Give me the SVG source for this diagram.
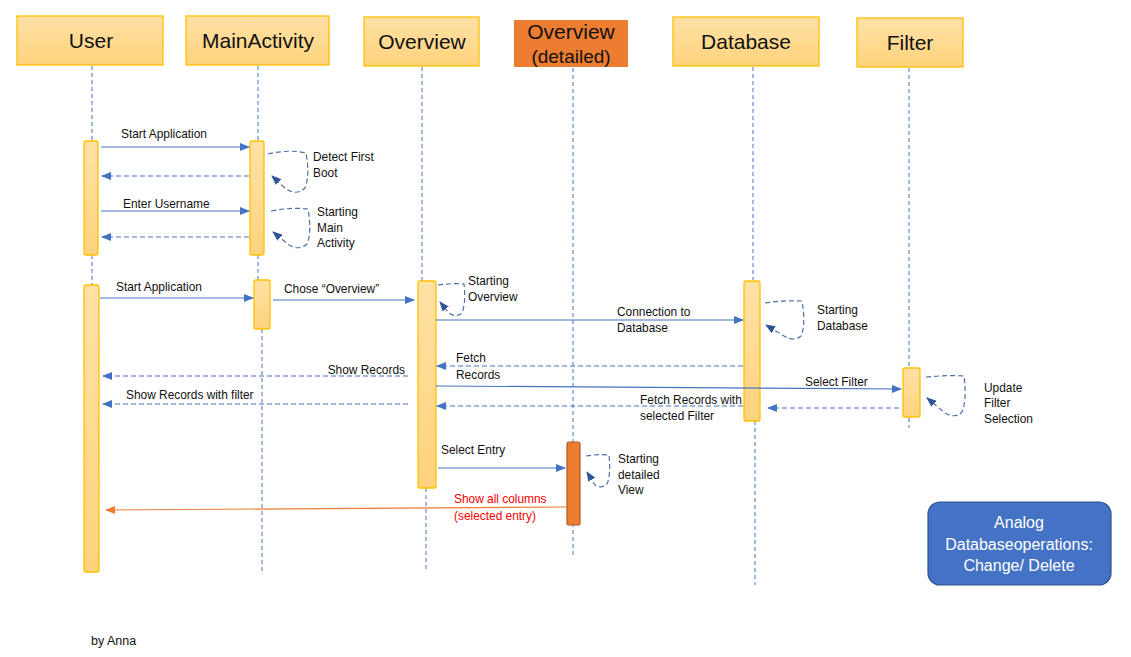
<svg xmlns="http://www.w3.org/2000/svg" width="1131" height="657" viewBox="0 0 1131 657">
<defs>
<linearGradient id="gy" x1="0" y1="0" x2="0" y2="1"><stop offset="0" stop-color="#FFE1A6"/><stop offset="1" stop-color="#FFD37C"/></linearGradient>
<marker id="ah" markerUnits="userSpaceOnUse" markerWidth="10" markerHeight="8" refX="9" refY="4" orient="auto"><path d="M0,0 L10,4 L0,8 Z" fill="#4472C4"/></marker>
<marker id="ahd" markerUnits="userSpaceOnUse" markerWidth="10" markerHeight="8" refX="9" refY="4" orient="auto"><path d="M0,0 L10,4 L0,8 Z" fill="#2F5597"/></marker>
<marker id="aho" markerUnits="userSpaceOnUse" markerWidth="10" markerHeight="8" refX="9" refY="4" orient="auto"><path d="M0,0 L10,4 L0,8 Z" fill="#ED7D31"/></marker>
<style>
.hdr{fill:url(#gy);stroke:#FFC000;stroke-width:1.3}
.act{fill:url(#gy);stroke:#FFC000;stroke-width:1.3}
.ht{font-family:"Liberation Sans",Arial,sans-serif;font-size:21px;fill:#111;text-anchor:middle}
.t{font-family:"Liberation Sans",Arial,sans-serif;font-size:11.9px;fill:#111}
.nt{font-family:"Liberation Sans",Arial,sans-serif;font-size:16px;fill:#fff;text-anchor:middle}
.life{stroke:#4472C4;stroke-width:1;stroke-dasharray:4 3;fill:none}
.msg{stroke:#4472C4;stroke-width:1.2;fill:none;marker-end:url(#ah)}
.ret{stroke:#4472C4;stroke-width:1.2;stroke-dasharray:5 3;fill:none;marker-end:url(#ah)}
.loop{stroke:#4F6FA8;stroke-width:1.2;stroke-dasharray:5 3;fill:none;marker-end:url(#ahd)}
</style>
</defs>
<rect width="1131" height="657" fill="#fff"/>
<g id="lifelines">
<line class="life" x1="92" y1="66" x2="92" y2="285"/>
<line class="life" x1="258" y1="66" x2="258" y2="280"/>
<line class="life" x1="262" y1="329" x2="262" y2="572"/>
<line class="life" x1="422" y1="67" x2="422" y2="281"/>
<line class="life" x1="426" y1="488" x2="426" y2="572"/>
<line class="life" x1="573" y1="68" x2="573" y2="558"/>
<line class="life" x1="753" y1="67" x2="753" y2="280"/>
<line class="life" x1="755" y1="421" x2="755" y2="585"/>
<line class="life" x1="909" y1="68" x2="909" y2="428"/>
</g>
<g id="User"><rect class="hdr" x="17" y="16" width="146" height="49"/><text class="ht" x="91" y="48">User</text>
<rect class="act" x="84" y="141" width="14" height="114" rx="2"/>
<rect class="act" x="84" y="285" width="15" height="287" rx="2"/></g>
<g id="MainActivity"><rect class="hdr" x="186" y="16" width="143" height="49"/><text class="ht" x="258" y="48">MainActivity</text>
<rect class="act" x="250" y="141" width="14" height="114" rx="2"/>
<rect class="act" x="254" y="280" width="16" height="49" rx="2"/></g>
<g id="Overview"><rect class="hdr" x="364" y="17" width="115" height="49"/><text class="ht" x="422" y="49">Overview</text>
<rect class="act" x="418" y="281" width="18" height="207" rx="2"/></g>
<g id="OverviewDetailed"><rect x="514" y="20" width="114" height="47" fill="#ED7D31"/><text class="ht" x="571" y="39">Overview</text><text class="ht" x="571" y="63" style="font-size:19px">(detailed)</text>
<rect x="567" y="442" width="13" height="83" rx="2" fill="#ED7D31" stroke="#AE5A21" stroke-width="1.2"/></g>
<g id="Database"><rect class="hdr" x="673" y="17" width="146" height="49"/><text class="ht" x="746" y="49">Database</text>
<rect class="act" x="744" y="281" width="16" height="140" rx="2"/></g>
<g id="Filter"><rect class="hdr" x="857" y="18" width="106" height="49"/><text class="ht" x="910" y="50">Filter</text>
<rect class="act" x="903" y="368" width="17" height="49" rx="2"/></g>
<g id="connectors">
<line class="msg" x1="101" y1="147" x2="249" y2="147"/>
<line class="ret" x1="249" y1="176" x2="102" y2="176"/>
<path class="loop" d="M268,154 Q290,149 306,153 Q310,175 305,188 Q297,196 286,189 L272,176"/>
<line class="msg" x1="101" y1="211" x2="249" y2="211"/>
<line class="ret" x1="249" y1="237" x2="102" y2="237"/>
<path class="loop" d="M271,211 Q292,207 308,209 Q312,232 307,244 Q299,251 289,245 L273,232"/>
<line class="msg" x1="100" y1="298" x2="253" y2="298"/>
<line class="msg" x1="273" y1="300" x2="414" y2="300"/>
<path class="loop" d="M438,285 Q452,283 464,284 Q466,303 462,313 Q455,318 449,313 L440,302"/>
<line class="msg" x1="436" y1="320" x2="743" y2="320"/>
<path class="loop" d="M765,303 Q785,300 802,301 Q806,324 801,336 Q794,342 784,336 L766,325"/>
<line class="ret" x1="743" y1="366" x2="437" y2="366"/>
<line class="ret" x1="408" y1="376" x2="103" y2="376"/>
<line class="msg" x1="436" y1="386" x2="901" y2="389"/>
<path class="loop" d="M926,377 Q946,375 964,376 Q967,400 962,412 Q955,419 945,413 L927,398"/>
<line class="ret" x1="899" y1="408" x2="768" y2="408"/>
<line class="ret" x1="743" y1="406" x2="437" y2="406"/>
<line class="ret" x1="408" y1="404" x2="103" y2="404"/>
<line class="msg" x1="438" y1="468" x2="565" y2="468"/>
<path class="loop" d="M586,456 Q598,454 609,455 Q611,475 607,484 Q601,489 595,485 L587,472"/>
<line x1="567" y1="507" x2="106" y2="510" stroke="#ED7D31" stroke-width="1.2" marker-end="url(#aho)"/>
</g>
<g id="labels">
<text class="t" x="121" y="138">Start Application</text>
<text class="t" x="313" y="161">Detect First</text>
<text class="t" x="313" y="177">Boot</text>
<text class="t" x="123" y="208">Enter Username</text>
<text class="t" x="317" y="216">Starting</text>
<text class="t" x="317" y="232">Main</text>
<text class="t" x="317" y="247">Activity</text>
<text class="t" x="116" y="291">Start Application</text>
<text class="t" x="284" y="293">Chose “Overview”</text>
<text class="t" x="468" y="285">Starting</text>
<text class="t" x="468" y="301">Overview</text>
<text class="t" x="617" y="316">Connection to</text>
<text class="t" x="617" y="332">Database</text>
<text class="t" x="817" y="314">Starting</text>
<text class="t" x="817" y="330">Database</text>
<text class="t" x="456" y="362">Fetch</text>
<text class="t" x="456" y="379">Records</text>
<text class="t" x="405" y="374" text-anchor="end">Show Records</text>
<text class="t" x="805" y="386">Select Filter</text>
<text class="t" x="984" y="392">Update</text>
<text class="t" x="984" y="407">Filter</text>
<text class="t" x="984" y="423">Selection</text>
<text class="t" x="640" y="404">Fetch Records with</text>
<text class="t" x="640" y="420">selected Filter</text>
<text class="t" x="126" y="399">Show Records with filter</text>
<text class="t" x="441" y="454">Select Entry</text>
<text class="t" x="618" y="463">Starting</text>
<text class="t" x="618" y="479">detailed</text>
<text class="t" x="618" y="494">View</text>
<text class="t" x="454" y="503" style="fill:#FF0000">Show all columns</text>
<text class="t" x="454" y="520" style="fill:#FF0000">(selected entry)</text>
</g>
<g id="Note"><rect x="928" y="502" width="183" height="83" rx="12" fill="#4472C4" stroke="#2F528F" stroke-width="1.2"/>
<text class="nt" x="1019" y="528">Analog</text>
<text class="nt" x="1019" y="550">Databaseoperations:</text>
<text class="nt" x="1019" y="571">Change/ Delete</text></g>
<text class="t" x="91" y="645" style="font-size:12.5px">by Anna</text>
</svg>
